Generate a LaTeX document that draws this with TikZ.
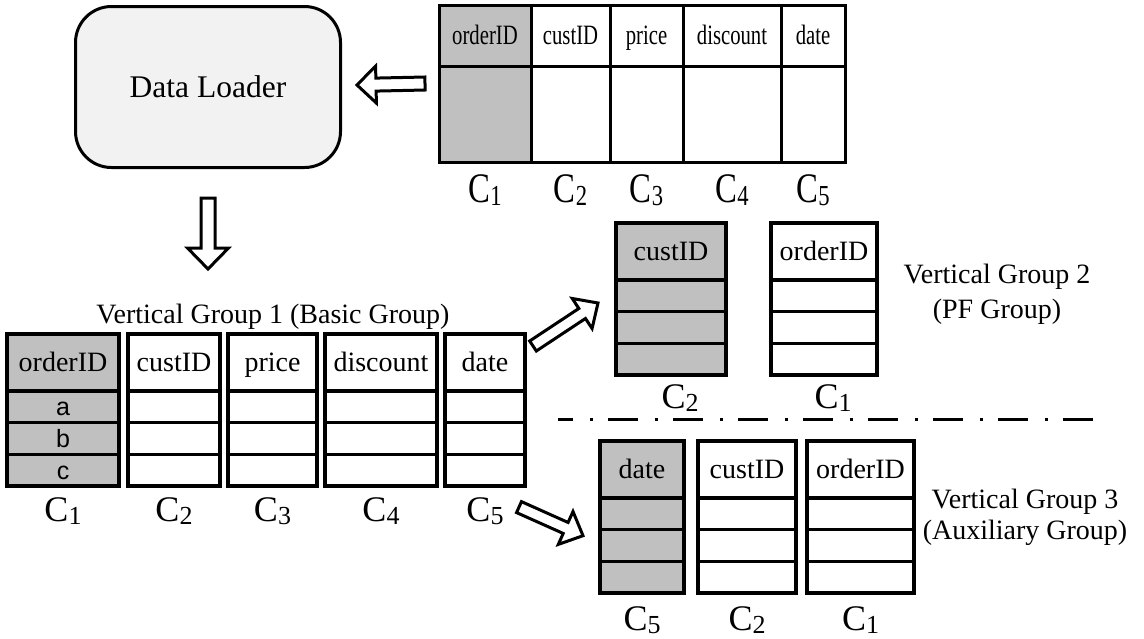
\documentclass[tikz,border=0pt]{standalone}
\usepackage{graphicx}
\usepackage{fontspec}
\setmainfont{Liberation Serif}
\newfontfamily\arialfont{Liberation Sans}
\usetikzlibrary{calc}

\definecolor{cellgray}{HTML}{C0C0C0}
\definecolor{loaderfill}{HTML}{F2F2F2}

\newcommand{\fs}[1]{\fontsize{#1}{#1}\selectfont}
% column labels C_i
\newcommand{\clabel}[1]{\fs{36}C\raisebox{-3pt}{\fs{26}#1}}
\newcommand{\tlabel}[1]{\scalebox{0.78}[1]{\fs{42}C\raisebox{-3pt}{\fs{29}#1}}}

\tikzset{
  cell/.style={draw, line width=3.5pt, inner sep=0pt, outer sep=0pt,
    font=\fs{28}, text height=18.5pt, text depth=0pt, anchor=north west},
  rowcell/.style={cell, font=\arialfont\fs{25}, text height=18pt},
  tcell/.style={draw, line width=3pt, inner sep=0pt, outer sep=0pt,
    font=\fs{28}, text height=18.5pt, text depth=0pt, anchor=north west},
  hollow arrow/.style={draw, line width=3pt, fill=white, line join=miter},
  grouptitle/.style={font=\fs{28}, anchor=base},
}

% one column of a vertical group: name, left x, right x, top y, fill, header, row texts
\newcommand{\colbox}[9]{%
  \node[cell, fill=#5, minimum width={#3-#2}, minimum height=57] (#1-h) at (#2,#4) {#6};
  \node[rowcell, fill=#5, minimum width={#3-#2}, minimum height=31.7] (#1-r1) at (#1-h.south west) {#7};
  \node[rowcell, fill=#5, minimum width={#3-#2}, minimum height=31.7] (#1-r2) at (#1-r1.south west) {#8};
  \node[rowcell, fill=#5, minimum width={#3-#2}, minimum height=31.7] (#1-r3) at (#1-r2.south west) {#9};
}
% one column of the source table: name, left x, right x, fill, header
\newcommand{\topcol}[5]{%
  \node[tcell, fill=#4, minimum width={#3-#2}, minimum height=61] (#1-h) at (#2,5) {\scalebox{0.74}[1]{#5}};
  \node[tcell, fill=#4, minimum width={#3-#2}, minimum height=96] (#1-b) at (#1-h.south west) {};
}
% hollow block arrow: tail, tip, shaft half width, head half width, head length
\newcommand{\blockarrow}[5]{%
  \coordinate (#1-base) at ($(#2)!#5!(#1)$);
  \draw[hollow arrow]
    ($(#1)!#3!90:(#2)$) -- ($(#1-base)!#3!90:(#2)$) -- ($(#1-base)!#4!90:(#2)$)
    -- (#2) -- ($(#1-base)!#4!-90:(#2)$) -- ($(#1-base)!#3!-90:(#2)$)
    -- ($(#1)!#3!-90:(#2)$) -- cycle;
}

\begin{document}
\begin{tikzpicture}[x=1pt, y=-1pt]
\useasboundingbox (0,0) rectangle (1144,638);

% data loader
\node[draw, line width=3pt, fill=loaderfill, rounded corners=36pt, inner sep=0pt,
      minimum width=265, minimum height=161, anchor=north west, font=\fs{31.5}]
  (loader) at (74,5) {Data Loader};

% source table
\topcol{t1}{439}{531}{cellgray}{orderID}
\topcol{t2}{531}{610}{white}{custID}
\topcol{t3}{610}{683}{white}{price}
\topcol{t4}{683}{781}{white}{discount}
\topcol{t5}{781}{845}{white}{date}
\foreach \i in {1,...,5}
  \node[anchor=base] (t\i-lab) at ($(t\i-b.south)+(0,40)$) {\tlabel{\i}};

% vertical group 1
\node[grouptitle] (g1-title) at (273,323) {Vertical Group 1 (Basic Group)};
\colbox{a1}{7}{119}{334}{cellgray}{orderID}{a}{b}{c}
\colbox{a2}{128}{220}{334}{white}{custID}{}{}{}
\colbox{a3}{228}{317}{334}{white}{price}{}{}{}
\colbox{a4}{325}{437}{334}{white}{discount}{}{}{}
\colbox{a5}{445}{525}{334}{white}{date}{}{}{}
\foreach \i in {1,...,5}
  \node[anchor=base] (a\i-lab) at ($(a\i-r3.south)+(0,35)$) {\clabel{\i}};

% vertical group 2
\colbox{b2}{616}{726}{223}{cellgray}{custID}{}{}{}
\colbox{b1}{771}{877}{223}{white}{orderID}{}{}{}
\node[anchor=base] (b2-lab) at ($(b2-r3.south)+(9,33)$) {\clabel{2}};
\node[anchor=base] (b1-lab) at ($(b1-r3.south)+(9,33)$) {\clabel{1}};
\node[grouptitle] (g2-title) at (997,283.5) {Vertical Group 2};
\node[grouptitle] (g2-sub) at (997,318) {(PF Group)};

% separator
\coordinate (sep-l) at (558,419.5);
\coordinate (sep-r) at (1095,419.5);
\draw[line width=3.5pt, dash pattern=on 30pt off 17pt on 3pt off 15pt, dash phase=15pt]
  (sep-l) -- (sep-r);

% vertical group 3
\colbox{c5}{600}{684}{441}{cellgray}{date}{}{}{}
\colbox{c2}{698}{796}{441}{white}{custID}{}{}{}
\colbox{c1}{807}{914}{441}{white}{orderID}{}{}{}
\node[anchor=base] (c5-lab) at ($(c5-r3.south)+(0,37)$) {\clabel{5}};
\node[anchor=base] (c2-lab) at ($(c2-r3.south)+(0,37)$) {\clabel{2}};
\node[anchor=base] (c1-lab) at ($(c1-r3.south)+(0,37)$) {\clabel{1}};
\node[grouptitle] (g3-title) at (1025,508.5) {Vertical Group 3};
\node[grouptitle] (g3-sub) at (1025,539) {(Auxiliary Group)};

% flow arrows
\coordinate (in-tail) at ($(t1-h.south west)+(-14,17.5)$);
\coordinate (in-tip) at ($(loader.east)+(15,-2)$);
\blockarrow{in-tail}{in-tip}{6.5pt}{18.5pt}{19pt}

\coordinate (down-tail) at ($(loader.south)+(0,29)$);
\coordinate (down-tip) at ($(loader.south)+(0,100)$);
\blockarrow{down-tail}{down-tip}{7pt}{20.5pt}{21pt}

\coordinate (pf-tail) at ($(a5-h.north east)+(8,12)$);
\coordinate (pf-tip) at ($(b2-h.south west)+(-18,23)$);
\blockarrow{pf-tail}{pf-tip}{6pt}{18pt}{19pt}

\coordinate (aux-tail) at ($(a5-r3.south east)+(-6,21)$);
\coordinate (aux-tip) at ($(c5-r1.south west)+(-17,6)$);
\blockarrow{aux-tail}{aux-tip}{6pt}{18pt}{19pt}
\end{tikzpicture}
\end{document}
